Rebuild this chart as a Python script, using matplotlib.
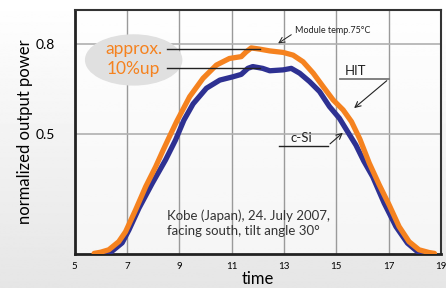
import numpy as np
import matplotlib
matplotlib.use("Agg")
import matplotlib.pyplot as plt
from matplotlib.patches import Ellipse

plt.rcParams['font.family'] = ['Lato', 'DejaVu Sans']

# HIT (orange) series
hit_x = [5.75, 6.0, 6.31, 6.69, 6.95, 7.33, 7.72, 8.1, 8.38, 8.61, 8.9, 9.4, 9.91,
         10.42, 10.92, 11.37, 11.56, 11.75, 12.07, 12.46, 12.97, 13.35, 13.73,
         14.12, 14.5, 14.88, 15.26, 15.58, 15.9, 16.26, 16.64, 17.02, 17.4, 17.78,
         18.16, 18.54, 18.75]
hit_y = [0.103, 0.107, 0.115, 0.142, 0.175, 0.247, 0.325, 0.391, 0.445, 0.488,
         0.541, 0.624, 0.685, 0.729, 0.751, 0.757, 0.773, 0.786, 0.782, 0.776,
         0.771, 0.762, 0.74, 0.702, 0.657, 0.613, 0.58, 0.541, 0.483, 0.403,
         0.331, 0.264, 0.192, 0.142, 0.115, 0.106, 0.103]

# c-Si (blue) series
csi_x = [6.1, 6.4, 6.82, 7.08, 7.46, 7.97, 8.48, 8.86, 9.18, 9.53, 10.04, 10.55,
         11.05, 11.37, 11.62, 11.81, 12.19, 12.46, 12.97, 13.28, 13.6, 13.98,
         14.36, 14.74, 15.12, 15.43, 15.75, 16.05, 16.39, 16.83, 17.28, 17.72,
         18.1, 18.35]
csi_y = [0.103, 0.108, 0.138, 0.181, 0.253, 0.336, 0.414, 0.48, 0.546, 0.6,
         0.652, 0.679, 0.69, 0.698, 0.718, 0.724, 0.718, 0.71, 0.713, 0.718,
         0.702, 0.674, 0.641, 0.591, 0.552, 0.508, 0.463, 0.41, 0.358, 0.27,
         0.192, 0.137, 0.109, 0.103]

x_ticks = [5, 7, 9, 11, 13, 15, 17, 19]
y_ticks = [0.5, 0.8]
y_tick_labels = ["0.5", "0.8"]

fig = plt.figure(figsize=(4.46, 2.88), dpi=100)
# background gradient
bg = fig.add_axes([0, 0, 1, 1], zorder=-10)
grad = np.linspace(1.0, 0.9, 256).reshape(-1, 1)
bg.imshow(grad, aspect='auto', cmap='gray', vmin=0, vmax=1, extent=[0, 1, 0, 1])
bg.axis('off')

ax = fig.add_axes([74.5/446, 1-253.7/288, (441-74.5)/446, (253.7-10)/288])
ax.set_facecolor((1, 1, 1, 0.6))
ax.set_xlim(5, 19)
ax.set_ylim(0.102, 0.912)

ax.set_xticks(x_ticks)
ax.set_xticklabels([str(t) for t in x_ticks], fontsize=7)
ax.set_yticks(y_ticks)
ax.set_yticklabels(y_tick_labels, fontsize=10)
ax.tick_params(length=0, pad=6)
ax.tick_params(axis='y', pad=14)

for x in [7, 9, 11, 13, 15, 17]:
    ax.axvline(x, color='#9a9a9a', lw=1.0, zorder=1)
for y in y_ticks:
    ax.axhline(y, color='#b0b0b0', lw=1.2, zorder=1)

for s in ['left', 'bottom']:
    ax.spines[s].set_linewidth(2.0)
    ax.spines[s].set_color('#222222')
for s in ['top', 'right']:
    ax.spines[s].set_linewidth(1.5)
    ax.spines[s].set_color('#333333')

ax.plot(csi_x, csi_y, color='#2e3192', lw=3.8, solid_capstyle='round',
        solid_joinstyle='round', zorder=3)
ax.plot(hit_x, hit_y, color='#f5821f', lw=3.8, solid_capstyle='round',
        solid_joinstyle='round', zorder=4)

ax.set_xlabel('time', fontsize=12, labelpad=0)
ax.set_ylabel('normalized output power', fontsize=12, labelpad=2)

# ellipse + approx text
ax.add_patch(Ellipse((7.26, 0.746), 3.67, 0.166, color='#e0e0e0', zorder=2))
ax.text(7.26, 0.782, 'approx.', color='#f5821f', fontsize=12.5, ha='center', va='center', zorder=5)
ax.text(7.26, 0.716, '10%up', color='#f5821f', fontsize=12.5, ha='center', va='center', zorder=5)
ax.plot([8.52, 12.1], [0.781, 0.781], color='#222222', lw=1.0, zorder=5)
ax.plot([8.52, 12.1], [0.718, 0.718], color='#222222', lw=1.0, zorder=5)

# module temp
ax.text(13.42, 0.843, 'Module temp.75°C', fontsize=6.5, ha='left', va='center', color='#222222')
ax.annotate('', xy=(12.69, 0.796), xytext=(13.37, 0.835),
            arrowprops=dict(arrowstyle='->', lw=0.7, color='#222222'))

# HIT label
ax.text(15.75, 0.709, 'HIT', fontsize=9.5, ha='center', va='center', color='#222222')
ax.plot([15.14, 17.01], [0.683, 0.683], color='#777777', lw=1.3)
ax.annotate('', xy=(15.6, 0.58), xytext=(17.01, 0.683),
            arrowprops=dict(arrowstyle='->', lw=0.8, color='#222222'))

# c-Si label
ax.text(13.68, 0.487, 'c-Si', fontsize=9.5, ha='center', va='center', color='#222222')
ax.plot([12.8, 14.68], [0.461, 0.461], color='#222222', lw=1.0)
ax.annotate('', xy=(15.33, 0.51), xytext=(14.68, 0.461),
            arrowprops=dict(arrowstyle='->', lw=0.8, color='#222222'))

ax.text(8.52, 0.204, 'Kobe (Japan), 24. July 2007,\nfacing south, tilt angle 30°',
        fontsize=9.5, ha='left', va='center', color='#333333', linespacing=1.25)

fig.savefig('out.png', dpi=100)
